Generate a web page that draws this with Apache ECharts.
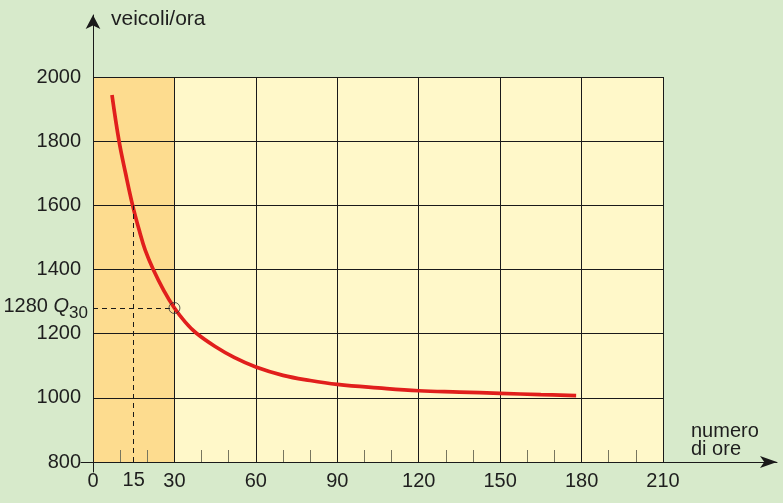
<!DOCTYPE html>
<html>
<head>
<meta charset="utf-8">
<script src="https://cdn.jsdelivr.net/npm/echarts@6/dist/echarts.min.js"></script>
<style>
html,body{margin:0;padding:0;background:#d7eacb;}
#c{width:783px;height:503px;}
</style>
</head>
<body>
<div id="c"></div>
<script>
// Data
const hours = [7, 9.6, 12, 14.6, 17.3, 19.2, 22.2, 26, 30, 34, 38, 45, 52, 60, 70, 80, 90, 105, 120, 135, 150, 165, 178];
const flow  = [1944, 1800, 1700, 1600, 1514, 1461, 1400, 1336, 1280, 1236, 1202, 1160, 1126, 1096, 1070, 1054, 1042, 1031, 1022, 1018, 1014, 1010, 1007];
const q30 = [30, 1280];
const q30Label = '1280';
const midHour = 15;
const midFlow = 1600;
const xRange = [0, 210, 30];
const yRange = [800, 2000, 200];
const shadedRange = [0, 30];
const yTitle = 'veicoli/ora';
const xTitle = 'numero\ndi ore';

const FONT = '"Liberation Sans", Arial, Helvetica, sans-serif';
const TXT = '#1e1e1e';
const LINE = '#1a1a1a';

const chart = echarts.init(document.getElementById('c'), null, {renderer: 'canvas'});

const option = {
  backgroundColor: '#d7eacb',
  animation: false,
  textStyle: {fontFamily: FONT},
  title: [
    {text: yTitle, left: 106, top: 4, textStyle: {fontFamily: FONT, fontSize: 21, fontWeight: 'normal', color: TXT}},
    {text: xTitle, left: 686, top: 417, textStyle: {fontFamily: FONT, fontSize: 20, fontWeight: 'normal', color: TXT, lineHeight: 18}}
  ],
  grid: [
    {left: 93, right: 120, top: 77, bottom: 41, show: false},
    {left: 81, right: 6, top: 15, bottom: 31, show: false}
  ],
  xAxis: [
    {
      type: 'value', gridIndex: 0, min: xRange[0], max: xRange[1], interval: xRange[2], z: 3,
      axisLine: {show: false},
      axisTick: {show: true, inside: true, length: 12, lineStyle: {color: LINE, width: 1}},
      minorTick: {show: true, splitNumber: 3, length: 12, lineStyle: {color: '#77765e', width: 1}},
      axisLabel: {show: true, fontSize: 20, color: TXT, margin: 9, fontFamily: FONT},
      splitLine: {show: true, lineStyle: {color: LINE, width: 1}}
    },
    {
      type: 'value', gridIndex: 1, min: -12, max: 684, z: 3,
      axisLine: {show: true, onZero: true, symbol: ['none', 'arrow'], symbolSize: [9, 17], lineStyle: {color: LINE, width: 1}},
      axisTick: {show: false}, axisLabel: {show: false}, splitLine: {show: false}
    }
  ],
  yAxis: [
    {
      type: 'value', gridIndex: 0, min: yRange[0], max: yRange[1], interval: yRange[2], z: 3,
      axisLine: {show: false},
      axisTick: {show: false},
      axisLabel: {show: true, fontSize: 20, color: TXT, margin: 12, fontFamily: FONT, formatter: v => String(v)},
      splitLine: {show: true, lineStyle: {color: LINE, width: 1}}
    },
    {
      type: 'value', gridIndex: 1, min: -10, max: 447, z: 3,
      axisLine: {show: true, onZero: true, symbol: ['none', 'arrow'], symbolSize: [11, 14], lineStyle: {color: LINE, width: 1}},
      axisTick: {show: false}, axisLabel: {show: false}, splitLine: {show: false}
    }
  ],
  series: [
    {
      type: 'line', xAxisIndex: 0, yAxisIndex: 0, z: 1, data: [], silent: true,
      markArea: {
        silent: true,
        data: [
          [{coord: [xRange[0], yRange[0]], itemStyle: {color: '#fff8c9'}}, {coord: [xRange[1], yRange[1]]}],
          [{coord: [shadedRange[0], yRange[0]], itemStyle: {color: '#fddc8f'}}, {coord: [shadedRange[1], yRange[1]]}]
        ]
      }
    },
    {
      type: 'line', xAxisIndex: 0, yAxisIndex: 0, z: 4,
      data: hours.map((h, i) => [h, flow[i]]),
      smooth: 0.4, showSymbol: false,
      lineStyle: {color: '#e11f1c', width: 3.7},
      markLine: {
        silent: true, symbol: ['none', 'none'],
        lineStyle: {color: LINE, width: 1, type: [5, 4]},
        data: [
          [
            {coord: [xRange[0], q30[1]],
             label: {show: true, position: 'start', distance: 5, offset: [0, -2],
               formatter: q30Label + ' {q|Q}{s|30}',
               fontSize: 20, color: TXT, fontFamily: FONT,
               rich: {q: {fontStyle: 'italic', fontSize: 20, color: TXT, fontFamily: FONT},
                      s: {fontSize: 17, color: TXT, fontFamily: FONT, padding: [14, 0, 0, 0]}}}},
            {coord: [q30[0], q30[1]]}
          ],
          [
            {coord: [midHour, yRange[0]],
             label: {show: true, position: 'start', distance: 8, formatter: String(midHour),
               fontSize: 20, color: TXT, fontFamily: FONT}},
            {coord: [midHour, midFlow]}
          ]
        ]
      }
    },
    {
      type: 'scatter', xAxisIndex: 0, yAxisIndex: 0, z: 5,
      data: [q30], symbol: 'circle', symbolSize: 11,
      itemStyle: {color: 'rgba(0,0,0,0)', borderColor: '#333', borderWidth: 1}
    }
  ]
};
chart.setOption(option);
</script>
</body>
</html>
